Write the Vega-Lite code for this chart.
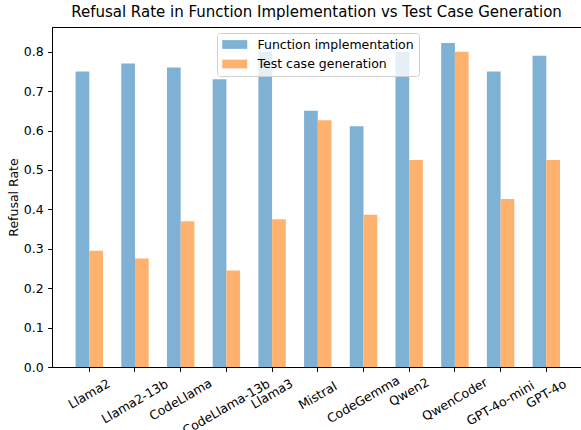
{
  "$schema": "https://vega.github.io/schema/vega-lite/v6.json",
  "width": 529,
  "height": 340,
  "autosize": {"type": "none"},
  "padding": {"left": 52, "top": 27, "right": 0, "bottom": 63},
  "background": "white",
  "title": {
    "text": "Refusal Rate in Function Implementation vs Test Case Generation",
    "font": "DejaVu Sans",
    "fontSize": 15,
    "fontWeight": "normal",
    "color": "#000000",
    "anchor": "middle",
    "frame": "group",
    "offset": 7
  },
  "data": {
    "values": [
      {"model": "Llama2", "task": "Function implementation", "rate": 0.75},
      {"model": "Llama2", "task": "Test case generation", "rate": 0.295},
      {"model": "Llama2-13b", "task": "Function implementation", "rate": 0.77},
      {"model": "Llama2-13b", "task": "Test case generation", "rate": 0.275},
      {"model": "CodeLlama", "task": "Function implementation", "rate": 0.76},
      {"model": "CodeLlama", "task": "Test case generation", "rate": 0.37},
      {"model": "CodeLlama-13b", "task": "Function implementation", "rate": 0.73},
      {"model": "CodeLlama-13b", "task": "Test case generation", "rate": 0.245},
      {"model": "Llama3", "task": "Function implementation", "rate": 0.80},
      {"model": "Llama3", "task": "Test case generation", "rate": 0.375},
      {"model": "Mistral", "task": "Function implementation", "rate": 0.65},
      {"model": "Mistral", "task": "Test case generation", "rate": 0.626},
      {"model": "CodeGemma", "task": "Function implementation", "rate": 0.611},
      {"model": "CodeGemma", "task": "Test case generation", "rate": 0.386},
      {"model": "Qwen2", "task": "Function implementation", "rate": 0.80},
      {"model": "Qwen2", "task": "Test case generation", "rate": 0.525},
      {"model": "QwenCoder", "task": "Function implementation", "rate": 0.822},
      {"model": "QwenCoder", "task": "Test case generation", "rate": 0.80},
      {"model": "GPT-4o-mini", "task": "Function implementation", "rate": 0.75},
      {"model": "GPT-4o-mini", "task": "Test case generation", "rate": 0.426},
      {"model": "GPT-4o", "task": "Function implementation", "rate": 0.79},
      {"model": "GPT-4o", "task": "Test case generation", "rate": 0.525}
    ]
  },
  "mark": {"type": "bar"},
  "encoding": {
    "x": {
      "field": "model",
      "type": "nominal",
      "sort": null,
      "scale": {"paddingInner": 0.4, "paddingOuter": 0.4876, "align": 0.529},
      "axis": {
        "title": null,
        "labelAngle": -30,
        "labelAlign": "center",
        "labelBaseline": "middle",
        "labelFont": "DejaVu Sans",
        "labelFontSize": 12.5,
        "labelColor": "#000000",
        "labelPadding": {"expr": "4.4 + length(datum.label) * 1.9 + 6.3"},
        "tickSize": 4.4,
        "tickColor": "#000000",
        "domainColor": "#000000",
        "labelOverlap": false,
        "labelBound": false,
        "labelFlush": false
      }
    },
    "xOffset": {
      "field": "task",
      "sort": ["Function implementation", "Test case generation"],
      "scale": {"paddingInner": 0, "paddingOuter": 0}
    },
    "y": {
      "field": "rate",
      "type": "quantitative",
      "scale": {"domain": [0, 0.8627], "nice": false, "zero": true},
      "axis": {
        "title": "Refusal Rate",
        "titleFont": "DejaVu Sans",
        "titleFontSize": 12.5,
        "titleFontWeight": "normal",
        "titleColor": "#000000",
        "titlePadding": 3,
        "values": [0, 0.1, 0.2, 0.3, 0.4, 0.5, 0.6, 0.7, 0.8],
        "format": ".1f",
        "labelFont": "DejaVu Sans",
        "labelFontSize": 12.5,
        "labelColor": "#000000",
        "labelPadding": 4.4,
        "tickSize": 4.4,
        "tickColor": "#000000",
        "domainColor": "#000000",
        "grid": false
      }
    },
    "color": {
      "field": "task",
      "type": "nominal",
      "scale": {
        "domain": ["Function implementation", "Test case generation"],
        "range": ["#7fb1d4", "#ffb26e"]
      },
      "legend": {
        "title": null,
        "orient": "none",
        "legendX": 165,
        "legendY": 6,
        "symbolType": "M-1,-0.7H3V0.7H-1Z",
        "symbolSize": 156.25,
        "symbolStrokeWidth": 0,
        "symbolOpacity": 1,
        "labelFont": "DejaVu Sans",
        "labelFontSize": 12.5,
        "labelColor": "#000000",
        "labelOffset": 22.5,
        "rowPadding": 6.5,
        "padding": 5,
        "fillColor": "rgba(255,255,255,0.8)",
        "strokeColor": "#d0d0d0",
        "cornerRadius": 3
      }
    }
  },
  "config": {
    "view": {"stroke": "#000000", "strokeWidth": 1},
    "axis": {"grid": false, "domainWidth": 1, "tickWidth": 1}
  }
}
